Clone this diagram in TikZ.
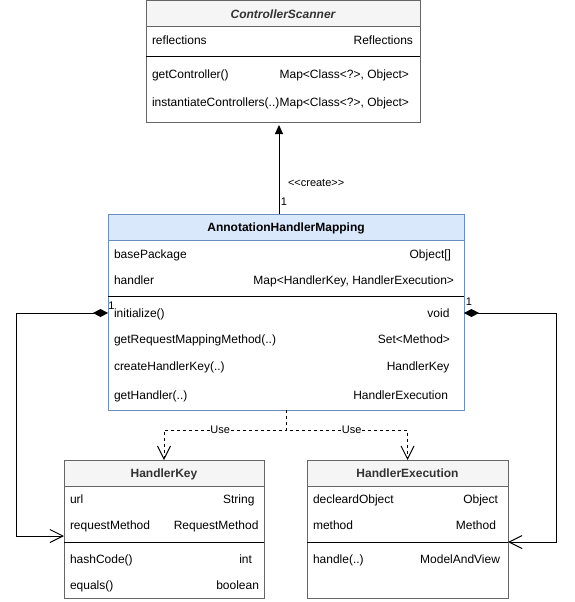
\documentclass[tikz,border=0pt]{standalone}
\usepackage{fontspec}
\setmainfont{Liberation Sans}
\usetikzlibrary{arrows.meta}
\definecolor{grayline}{HTML}{666666}
\definecolor{grayfill}{HTML}{F5F5F5}
\definecolor{hdrtext}{HTML}{333333}
\definecolor{blueline}{HTML}{6C8EBF}
\definecolor{bluefill}{HTML}{DAE8FC}
\begin{document}
\begin{tikzpicture}[x=1pt,y=-1pt,
  every node/.style={inner sep=0pt, outer sep=0pt},
  hbox/.style={draw=grayline, fill=grayfill, line width=1pt, anchor=north west,
    font=\fontsize{12}{14}\selectfont\bfseries, text=hdrtext, text height=8.7pt, text depth=0pt},
  bbox/.style={draw=grayline, fill=white, line width=1pt, anchor=north west},
  lt/.style={anchor=base west, font=\fontsize{12}{14}\selectfont},
  rt/.style={anchor=base east, font=\fontsize{12}{14}\selectfont},
  small/.style={font=\fontsize{11}{13}\selectfont},
  sep/.style={line width=1pt, draw=black},
  conn/.style={line width=1pt},
  vee/.style={Straight Barb[length=13pt,width=13pt]},
  dep/.style={line width=1pt, dash pattern=on 3pt off 3pt, -{Straight Barb[length=13pt,width=13pt]}},
  comp/.style={line width=1pt, {Diamond[length=15pt,width=8pt]}-{Straight Barb[length=13pt,width=13pt]}},
  lbl/.style={font=\fontsize{11}{13}\selectfont, fill=white, inner sep=0.5pt}
]
\useasboundingbox (0,0) rectangle (574,602);

% ControllerScanner
\node[bbox, minimum width=274pt, minimum height=95pt] (csb) at (146,27) {};
\node[hbox, minimum width=274pt, minimum height=26pt] (csh) at (146,1) {\itshape ControllerScanner};
\draw[sep] (146,57) -- (420,57);
\node[lt] (cs1) at (152,44.4) {reflections};
\node[rt] (cs1t) at (413,44.4) {Reflections};
\node[lt] (cs2) at (152,78.4) {getController()};
\node[rt] (cs2t) at (409,78.4) {Map<Class<?>, Object>};
\node[lt] (cs3) at (152,106.4) {instantiateControllers(..)};
\node[rt] (cs3t) at (409,106.4) {Map<Class<?>, Object>};

% AnnotationHandlerMapping
\node[bbox, draw=blueline, minimum width=356pt, minimum height=170pt] (ahmb) at (108,240) {};
\node[hbox, draw=blueline, fill=bluefill, text=black, minimum width=356pt, minimum height=26pt] (ahmh) at (108,214) {AnnotationHandlerMapping};
\draw[sep] (108,296) -- (464,296);
\node[lt] (a1) at (114,258.6) {basePackage};
\node[rt] (a1t) at (451,258.6) {Object[]};
\node[lt] (a2) at (114,284.6) {handler};
\node[rt] (a2t) at (454,284.6) {Map<HandlerKey, HandlerExecution>};
\node[lt] (a3) at (114,317.6) {initialize()};
\node[rt] (a3t) at (449.5,317.6) {void};
\node[lt] (a4) at (114,343.6) {getRequestMappingMethod(..)};
\node[rt] (a4t) at (450,343.6) {Set<Method>};
\node[lt] (a5) at (114,370.6) {createHandlerKey(..)};
\node[rt] (a5t) at (449.5,370.6) {HandlerKey};
\node[lt] (a6) at (114,399.4) {getHandler(..)};
\node[rt] (a6t) at (448,399.4) {HandlerExecution};

% HandlerKey
\node[bbox, minimum width=200pt, minimum height=112pt] (hkb) at (64,486) {};
\node[hbox, minimum width=200pt, minimum height=26pt] (hkh) at (64,460) {HandlerKey};
\draw[sep] (64,542) -- (264,542);
\node[lt] (k1) at (70,503.6) {url};
\node[rt] (k1t) at (254.5,503.6) {String};
\node[lt] (k2) at (70,529.6) {requestMethod};
\node[rt] (k2t) at (258.5,529.6) {RequestMethod};
\node[lt] (k3) at (70,563.6) {hashCode()};
\node[rt] (k3t) at (252,563.6) {int};
\node[lt] (k4) at (70,589.6) {equals()};
\node[rt] (k4t) at (259,589.6) {boolean};

% HandlerExecution
\node[bbox, minimum width=201pt, minimum height=112pt] (heb) at (307,486) {};
\node[hbox, minimum width=201pt, minimum height=26pt] (heh) at (307,460) {HandlerExecution};
\draw[sep] (307,542) -- (508,542);
\node[lt] (e1) at (313,503.6) {decleardObject};
\node[rt] (e1t) at (498,503.6) {Object};
\node[lt] (e2) at (313,529.6) {method};
\node[rt] (e2t) at (496,529.6) {Method};
\node[lt] (e3) at (313,563.6) {handle(..)};
\node[rt] (e3t) at (500,563.6) {ModelAndView};

% create
\coordinate (crA) at (279,214);
\coordinate (crB) at (279,122);
\draw[conn, -{Triangle[length=9pt,width=8pt]}, shorten >=3pt] (crA) -- (crB);
\node[small, anchor=west] (crl) at (288,183) {<\kern0pt<create>\kern0pt>};
\node[small] (cr1) at (284,201.5) {1};

% compositions
\coordinate (lA) at (108,313);
\coordinate (lB) at (64,536);
\draw[comp] (lA) -- ++(-92,0) |- (lB);
\node[small] (l1) at (111.5,306) {1};
\coordinate (rA) at (464,313);
\coordinate (rB) at (508,542);
\draw[comp] (rA) -- ++(92,0) |- (rB);
\node[small] (r1) at (469,301.5) {1};

% dependencies
\draw[dep] (ahmb.south) -- ++(0,20) -| node[lbl, pos=0.27] (u1) {Use} (hkh.north);
\draw[dep] (ahmb.south) -- ++(0,20) -| node[lbl, pos=0.27] (u2) {Use} (heh.north);
\end{tikzpicture}
\end{document}
